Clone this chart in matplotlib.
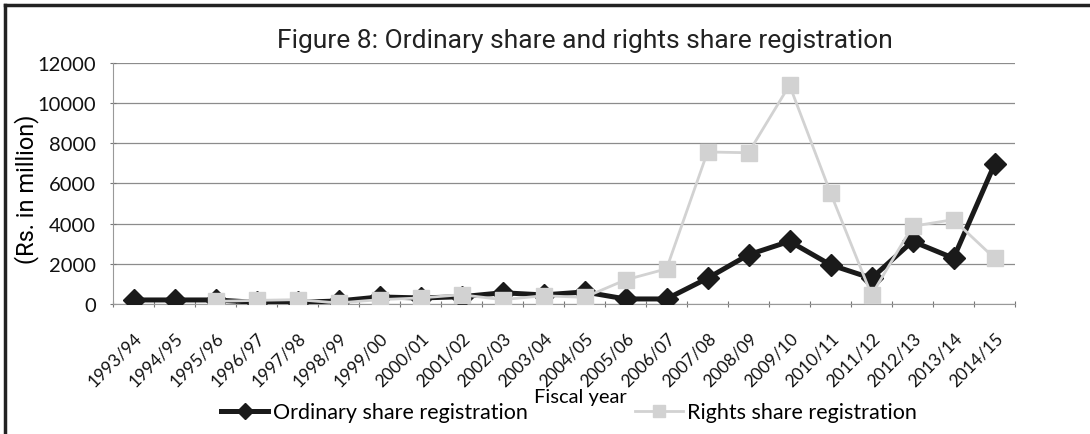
import numpy as np
import matplotlib
matplotlib.use('Agg')
from matplotlib import pyplot as plt
from matplotlib.lines import Line2D

# datos
anios = ['1993/94', '1994/95', '1995/96', '1996/97', '1997/98', '1998/99',
         '1999/00', '2000/01', '2001/02', '2002/03', '2003/04', '2004/05',
         '2005/06', '2006/07', '2007/08', '2008/09', '2009/10', '2010/11',
         '2011/12', '2012/13', '2013/14', '2014/15']
ordinarias = [200, 200, 200, 80, 80, 150, 350, 300, 360, 560, 450, 600,
              250, 250, 1280, 2450, 3120, 1950, 1280, 3120, 2280, 6950]
derechos = [np.nan, np.nan, 130, 180, 215, 50, 215, 300, 460, 215, 410, 330,
            1200, 1750, 7570, 7530, 10900, 5530, 450, 3870, 4200, 2280]
yticks = [0, 2000, 4000, 6000, 8000, 10000, 12000]

fig = plt.figure(figsize=(10.9, 4.35), dpi=100)
ax = fig.add_axes([0.1037, 0.2989, 0.8275, 0.554])

x = np.arange(len(anios))
ax.plot(x, ordinarias, color='#1a1a1a', linewidth=3.6, marker='D',
        markersize=11, zorder=3)
ax.plot(x, derechos, color='#d2d2d2', linewidth=2, marker='s',
        markersize=11, zorder=4)

ax.set_xlim(-0.5, len(anios) - 0.5)
ax.set_ylim(0, 12000)
ax.set_yticks(yticks)
ax.set_yticklabels([str(v) for v in yticks], family='Lato', fontsize=14.5,
                   color='#111111')
ax.yaxis.grid(True, color='#8c8c8c', linewidth=0.9)
ax.set_axisbelow(True)

# ticks entre categorias
ax.set_xticks(np.arange(len(anios) + 1) - 0.5)
ax.set_xticklabels([])
ax.set_xticks(x, minor=True)
ax.set_xticklabels(anios, minor=True, rotation=45, ha='right',
                   rotation_mode='anchor', family='Lato', fontsize=12.5,
                   color='#111111')
ax.tick_params(axis='x', which='minor', length=0, pad=18)
ax.tick_params(axis='x', which='major', length=5, color='#777777', direction='inout')
ax.tick_params(axis='y', length=5, color='#777777', direction='inout', pad=10)

for s in ['top', 'right']:
    ax.spines[s].set_visible(False)
ax.spines['left'].set_color('#999999')
ax.spines['bottom'].set_color('#999999')

ax.set_ylabel('(Rs. in million)', family='Roboto', fontsize=17)
ax.yaxis.set_label_coords(-0.082, 0.48)

fig.text(0.537, 0.905, 'Figure 8: Ordinary share and rights share registration',
         family='Roboto', fontsize=19, ha='center', va='center', color='#222222')
fig.text(0.532, 0.087, 'Fiscal year', family='Lato', fontsize=14.5, ha='center',
         va='center')

h1 = Line2D([], [], color='#1a1a1a', linewidth=3.6, marker='D', markersize=8)
h2 = Line2D([], [], color='#d2d2d2', linewidth=2, marker='s', markersize=9)
fig.legend([h1, h2], ['Ordinary share registration', 'Rights share registration'],
           loc='center', bbox_to_anchor=(0.522, 0.05), ncol=2, frameon=False,
           prop={'family': 'Lato', 'size': 15.5}, handlelength=2.2,
           handletextpad=0.2, columnspacing=5.0)

# marco de la figura
fig.add_artist(Line2D([0.005, 1.0], [0.986, 0.986], color='#222222', linewidth=2.5))
fig.add_artist(Line2D([0.005, 0.005], [0.0, 0.986], color='#222222', linewidth=2.5))

fig.savefig('out.png', dpi=100)
